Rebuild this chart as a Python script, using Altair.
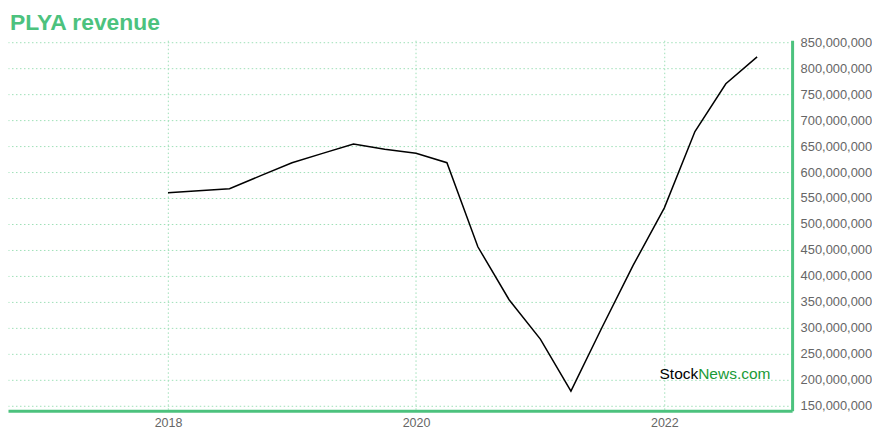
import altair as alt
import pandas as pd

dates = [
    "2018-01-01", "2018-04-01", "2018-07-01", "2018-10-01",
    "2019-01-01", "2019-04-01", "2019-07-01", "2019-10-01",
    "2020-01-01", "2020-04-01", "2020-07-01", "2020-10-01",
    "2021-01-01", "2021-04-01", "2021-07-01", "2021-10-01",
    "2022-01-01", "2022-04-01", "2022-07-01", "2022-10-01",
]
revenue = [
    560e6, 564e6, 568e6, 593e6,
    618e6, 636e6, 654e6, 644e6,
    636e6, 618e6, 456e6, 354e6,
    278e6, 178e6, 300e6, 420e6,
    531e6, 678e6, 770e6, 822e6,
]
y_ticks = [150e6 + 50e6 * i for i in range(15)]
x_tick_years = [2018, 2020, 2022]
title_text = "PLYA revenue"

df = pd.DataFrame({"date": [d + "T00:00:00" for d in dates], "revenue": revenue})

GREEN = "#4cc27e"
GRID = "#9fe0b8"
FONT = "Liberation Sans"

x_enc = alt.X(
    "date:T",
    scale=alt.Scale(domain=[alt.DateTime(year=2016, month=9, date=17),
                            alt.DateTime(year=2023, month=1, date=12)]),
    axis=alt.Axis(
        values=[alt.DateTime(year=y, month=1, date=1) for y in x_tick_years],
        format="%Y", title=None, ticks=False, labelPadding=6,
        domainColor=GREEN, domainWidth=3,
        grid=True, gridColor=GRID, gridDash=[1.5, 2.5], gridWidth=1,
        labelColor="#666666", labelFont=FONT, labelFontSize=12.5,
    ),
)
y_enc = alt.Y(
    "revenue:Q",
    scale=alt.Scale(domain=[140e6, 854e6], nice=False, zero=False),
    axis=alt.Axis(
        orient="right", values=y_ticks, format=",.0f", title=None, ticks=False,
        labelPadding=8, domainColor=GREEN, domainWidth=3,
        grid=True, gridColor=GRID, gridDash=[1.5, 2.5], gridWidth=1,
        labelColor="#666666", labelFont=FONT, labelFontSize=12.9,
    ),
)

line = alt.Chart(df).mark_line(color="#000000", strokeWidth=1.5).encode(x=x_enc, y=y_enc)

title = alt.Chart(pd.DataFrame({"t": [title_text]})).mark_text(
    align="left", baseline="alphabetic", font=FONT, fontSize=22.9, fontWeight="bold",
    color=GREEN
).encode(text="t:N", x=alt.value(2), y=alt.value(-10))

wm1 = alt.Chart(pd.DataFrame({"t": ["Stock"]})).mark_text(
    align="right", baseline="alphabetic", font=FONT, fontSize=15.5, color="#000000"
).encode(text="t:N", x=alt.value(691), y=alt.value(339))
wm2 = alt.Chart(pd.DataFrame({"t": ["News.com"]})).mark_text(
    align="left", baseline="alphabetic", font=FONT, fontSize=15.5, color="#1a9a37"
).encode(text="t:N", x=alt.value(691), y=alt.value(339))

chart = alt.layer(line, title, wm1, wm2).properties(
    width=785, height=371,
    autosize=alt.AutoSizeParams(type="none"),
    padding={"left": 0, "top": 32, "right": 80, "bottom": 25},
).configure_view(stroke=None)

chart.save("out.html", embed_options={"renderer": "svg", "actions": False})
